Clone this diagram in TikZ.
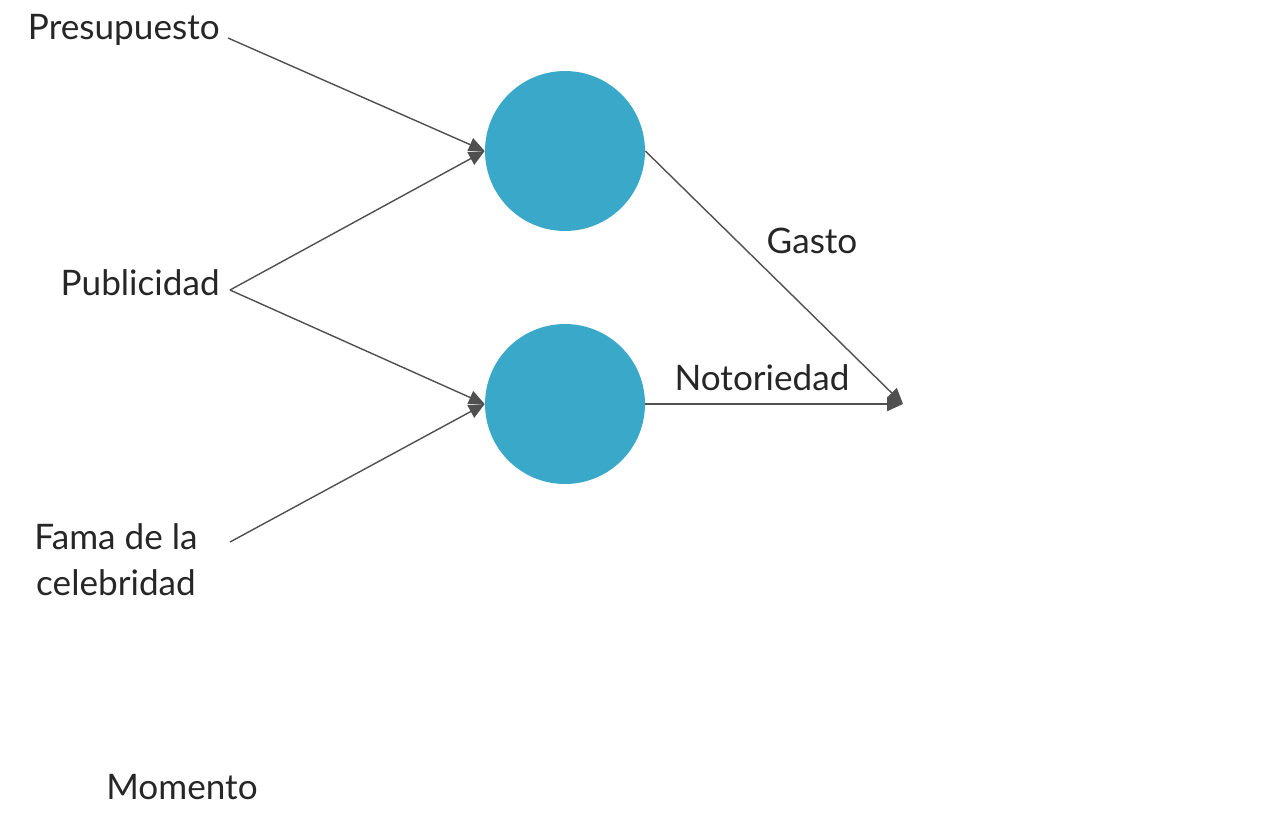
\documentclass[tikz,border=0pt]{standalone}
\usepackage{fontspec}
\setmainfont{Lato}
\usetikzlibrary{arrows.meta}
\tikzset{>={Triangle[length=9pt,width=8pt]}}
\definecolor{bolita}{HTML}{3AA8C9}
\definecolor{linea}{HTML}{505050}
\tikzset{
  bola/.style={circle, fill=bolita, minimum size=3.2cm, inner sep=0pt},
  txt/.style={font=\fontsize{20}{26}\selectfont, text=black!85, inner sep=0pt},
  flecha/.style={linea, thick, ->}
}
\begin{document}
\begin{tikzpicture}[x=0.02cm,y=-0.02cm]
  \useasboundingbox (0,0) rectangle (1283,816);
  \node[bola] (c1) at (565,151) {};
  \node[bola] (c2) at (565,404) {};
  \node[txt, anchor=east] (pres) at (220,30) {Presupuesto};
  \node[txt, anchor=east] (pub) at (220,283) {Publicidad};
  \node[txt, align=center] (fama) at (116,560) {Fama de la\\celebridad};
  \node[txt] (mom) at (182,787) {Momento};
  \coordinate (p1) at (228,38);
  \coordinate (p2) at (230,290);
  \coordinate (p3) at (230,542);
  \coordinate (fin) at (903,404);
  \draw[flecha] (p1) -- (c1.west);
  \draw[flecha] (p2) -- (c1.west);
  \draw[flecha] (p2) -- (c2.west);
  \draw[flecha] (p3) -- (c2.west);
  \draw[flecha] (c1.east) -- (fin);
  \draw[flecha] (c2.east) -- (fin);
  \node[txt] (gasto) at (812,241) {Gasto};
  \node[txt] (noto) at (762,378) {Notoriedad};
\end{tikzpicture}
\end{document}
